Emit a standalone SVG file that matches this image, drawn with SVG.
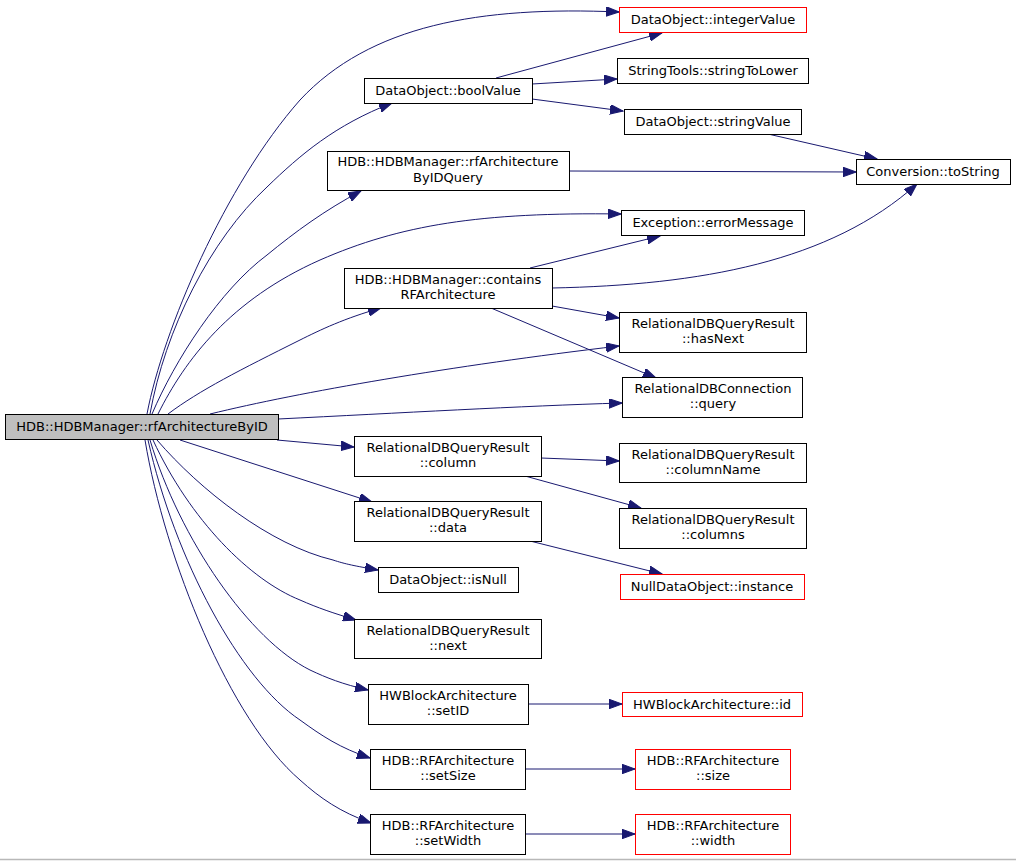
<svg xmlns="http://www.w3.org/2000/svg" width="1016" height="861" viewBox="0 0 1016 861">
<style>
.n rect{fill:#ffffff;stroke:#000000;stroke-width:1}
.n.r rect{stroke:#ff0000}
.n.m rect{fill:#bfbfbf}
.n text{font-family:"DejaVu Sans",sans-serif;font-size:13px;text-anchor:middle;fill:#000000}
.e path{fill:none;stroke:#191970;stroke-width:1}
</style>
<defs>
<marker id="a" markerUnits="userSpaceOnUse" markerWidth="14" markerHeight="10" refX="13" refY="4.75" orient="auto" viewBox="0 0 14 10">
<path d="M0,0 L13,4.75 L0,9.5 z" fill="#191970" stroke="#191970" stroke-width="1"/>
</marker>
</defs>
<rect x="0" y="0" width="1016" height="861" fill="#ffffff"/>
<line x1="0" y1="859.5" x2="1016" y2="859.5" stroke="#b8b8b8" stroke-width="1.5"/>
<g id="connectors" class="e" marker-end="url(#a)">
<path d="M147,414 C163,330 225,185 300,100 C370,25 480,6 619,12"/>
<path d="M150,414 C165,330 210,240 267,187 C300,155 335,125 392,103"/>
<path d="M152,414 C175,360 220,290 267,255 C295,232 325,210 361,191"/>
<path d="M158,414 C185,360 230,300 320,260 C400,225 480,212 621,214"/>
<path d="M168,414 C200,390 240,370 300,340 C320,330 345,318 381,308"/>
<path d="M210,414 C300,392 450,366 619,346"/>
<path d="M278,419 C400,413 520,406 622,403"/>
<path d="M277,440 L354,447"/>
<path d="M180,440 L372,502"/>
<path d="M157,440 C200,490 270,545 333,560 C345,564 355,566 378,570"/>
<path d="M153,440 C190,520 250,580 300,600 C318,608 333,613 356,620"/>
<path d="M150,440 C180,540 250,640 310,670 C327,678 342,684 368,690"/>
<path d="M148,440 C175,560 240,680 300,720 C322,736 340,748 370,758"/>
<path d="M145,440 C165,560 230,720 300,780 C320,798 340,812 371,823"/>
<path d="M496,78 L662,33"/>
<path d="M532,84 L617,79"/>
<path d="M532,99 L623,111"/>
<path d="M768,134 L877,159"/>
<path d="M569,171 L856,172"/>
<path d="M552,288 C700,285 830,262 917,184"/>
<path d="M530,268 L660,236"/>
<path d="M552,306 L619,318"/>
<path d="M491,308 L656,378"/>
<path d="M541,458 L619,461"/>
<path d="M525,476 L641,508"/>
<path d="M530,541 L662,574"/>
<path d="M528,704 L622,704"/>
<path d="M525,769 L635,769"/>
<path d="M525,834 L635,834"/>
</g>
<g id="node_main" class="n m"><rect x="5.5" y="414.5" width="273" height="25"/><text x="142" y="431">HDB::HDBManager::rfArchitectureByID</text></g>
<g id="node_integerValue" class="n r"><rect x="619.5" y="7.5" width="187" height="25"/><text x="713" y="24">DataObject::integerValue</text></g>
<g id="node_stringToLower" class="n"><rect x="617.5" y="58.5" width="191" height="25"/><text x="713" y="75">StringTools::stringToLower</text></g>
<g id="node_boolValue" class="n"><rect x="364.5" y="78.5" width="168" height="25"/><text x="448" y="95">DataObject::boolValue</text></g>
<g id="node_stringValue" class="n"><rect x="624.5" y="109.5" width="177" height="25"/><text x="713" y="126">DataObject::stringValue</text></g>
<g id="node_rfArchByIDQuery" class="n"><rect x="327.5" y="151.5" width="242" height="39"/><text x="448" y="166">HDB::HDBManager::rfArchitecture</text><text x="448" y="182">ByIDQuery</text></g>
<g id="node_toString" class="n"><rect x="856.5" y="159.5" width="154" height="25"/><text x="933" y="176">Conversion::toString</text></g>
<g id="node_errorMessage" class="n"><rect x="621.5" y="210.5" width="183" height="25"/><text x="713" y="227">Exception::errorMessage</text></g>
<g id="node_contains" class="n"><rect x="344.5" y="268.5" width="208" height="40"/><text x="448" y="284">HDB::HDBManager::contains</text><text x="448" y="299">RFArchitecture</text></g>
<g id="node_hasNext" class="n"><rect x="619.5" y="312.5" width="187" height="40"/><text x="713" y="328">RelationalDBQueryResult</text><text x="713" y="343">::hasNext</text></g>
<g id="node_query" class="n"><rect x="622.5" y="377.5" width="180" height="40"/><text x="713" y="393">RelationalDBConnection</text><text x="713" y="408">::query</text></g>
<g id="node_column" class="n"><rect x="354.5" y="436.5" width="187" height="40"/><text x="448" y="452">RelationalDBQueryResult</text><text x="448" y="467">::column</text></g>
<g id="node_columnName" class="n"><rect x="619.5" y="443.5" width="187" height="39"/><text x="713" y="459">RelationalDBQueryResult</text><text x="713" y="474">::columnName</text></g>
<g id="node_data" class="n"><rect x="354.5" y="501.5" width="187" height="40"/><text x="448" y="517">RelationalDBQueryResult</text><text x="448" y="532">::data</text></g>
<g id="node_columns" class="n"><rect x="619.5" y="508.5" width="187" height="40"/><text x="713" y="524">RelationalDBQueryResult</text><text x="713" y="539">::columns</text></g>
<g id="node_isNull" class="n"><rect x="378.5" y="567.5" width="140" height="25"/><text x="448" y="584">DataObject::isNull</text></g>
<g id="node_instance" class="n r"><rect x="620.5" y="574.5" width="184" height="25"/><text x="712" y="591">NullDataObject::instance</text></g>
<g id="node_next" class="n"><rect x="354.5" y="619.5" width="187" height="39"/><text x="448" y="635">RelationalDBQueryResult</text><text x="448" y="650">::next</text></g>
<g id="node_setID" class="n"><rect x="368.5" y="684.5" width="160" height="40"/><text x="448" y="700">HWBlockArchitecture</text><text x="448" y="715">::setID</text></g>
<g id="node_id" class="n r"><rect x="622.5" y="692.5" width="180" height="24"/><text x="712" y="709">HWBlockArchitecture::id</text></g>
<g id="node_setSize" class="n"><rect x="370.5" y="749.5" width="155" height="40"/><text x="448" y="765">HDB::RFArchitecture</text><text x="448" y="780">::setSize</text></g>
<g id="node_size" class="n r"><rect x="635.5" y="749.5" width="155" height="40"/><text x="713" y="765">HDB::RFArchitecture</text><text x="713" y="780">::size</text></g>
<g id="node_setWidth" class="n"><rect x="370.5" y="814.5" width="155" height="40"/><text x="448" y="830">HDB::RFArchitecture</text><text x="448" y="845">::setWidth</text></g>
<g id="node_width" class="n r"><rect x="635.5" y="814.5" width="155" height="40"/><text x="713" y="830">HDB::RFArchitecture</text><text x="713" y="845">::width</text></g>
</svg>
